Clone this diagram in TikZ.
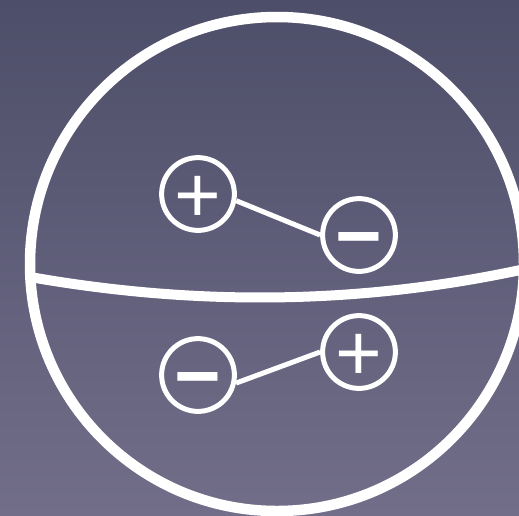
\documentclass[tikz,border=0pt]{standalone}
\usepackage{fontspec}
\setmainfont{Liberation Sans}
\usepackage{tikz}
\usetikzlibrary{positioning, calc}
\definecolor{bgtop}{HTML}{4D4E69}
\definecolor{bgbottom}{HTML}{726E8A}

\begin{document}
\begin{tikzpicture}[x=1pt, y=-1pt,
   charge/.style={draw=white, line width=5pt, circle, minimum size=72pt, inner sep=0pt,
                  text=white, text height=56pt, text depth=0pt, font=\fontsize{80}{80}\selectfont},
   bond/.style={draw=white, line width=5pt}]
% Background
\clip (0,0) rectangle (519,515);
\shade[top color=bgtop, bottom color=bgbottom] (0,0) rectangle (519,515);

% Sphere and equator
\node[draw=white, line width=10.5pt, circle, minimum size=494pt, inner sep=0pt] (sphere) at (277,264) {};
\coordinate (eqleft) at (30,277);
\coordinate (eqright) at (525,269);
\draw[white, line width=10pt] (eqleft) .. controls (195,306) and (359,305) .. (eqright);

% Upper dipole
\node[charge] (plusA) at (198,194) {+};
\node[charge] (minusA) at (359,235) {\bfseries −};
\draw[bond] (plusA.-10) -- (minusA.west);

% Lower dipole
\node[charge] (minusB) at (198,375) {\bfseries −};
\node[charge] (plusB) at (359,352) {+};
\draw[bond] (minusB.-12) -- (plusB.west);
\end{tikzpicture}
\end{document}
